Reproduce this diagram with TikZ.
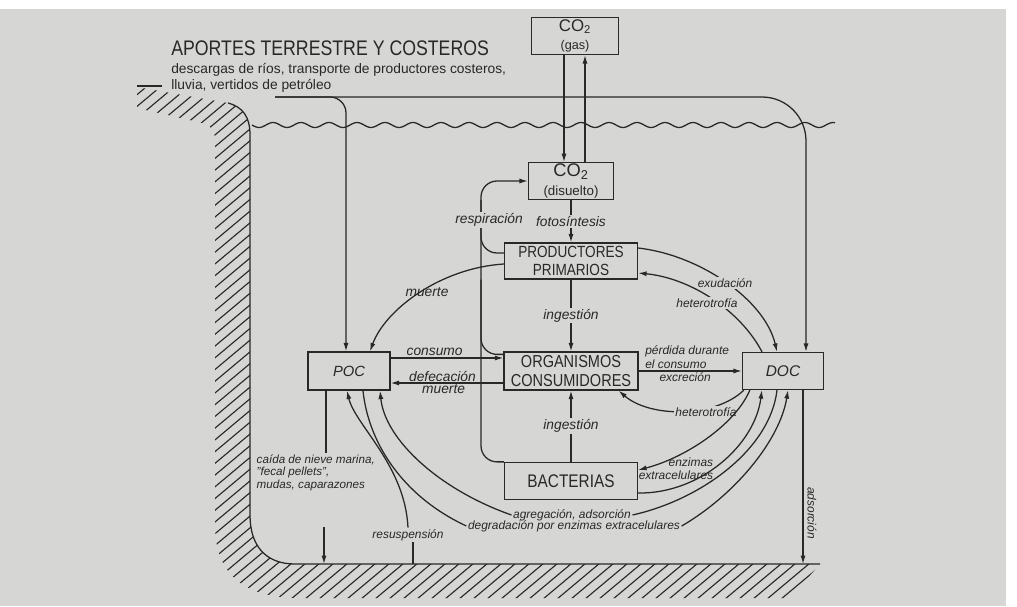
\documentclass[tikz,border=0pt]{standalone}
\usepackage{fontspec}
\setmainfont{Liberation Sans}
\newfontfamily\narrowfont{Liberation Sans}[FakeStretch=0.84]
\usepackage{tikz}
\usetikzlibrary{calc, arrows.meta}

\definecolor{paper}{RGB}{214,214,212}
\definecolor{ink}{RGB}{40,40,40}

\begin{document}
\begin{tikzpicture}[x=0.025cm, y=-0.025cm, color=ink,
    >={Latex[length=6pt,width=3.6pt]},
    box/.style={draw, line width=0.9pt, inner sep=1pt, align=center,
        font=\narrowfont\fontsize{11.5}{12.5}\selectfont},
    lab/.style={font=\itshape\fontsize{8.5}{10}\selectfont, inner sep=1pt},
    labbig/.style={lab, font=\itshape\fontsize{9.8}{11}\selectfont},
    onln/.style={labbig, fill=paper},
    flow/.style={line width=0.9pt}]

    % fondo
    \fill[white] (0,0) rectangle (1017,606);
    \fill[paper] (0,9) rectangle (1006,606);
    \useasboundingbox (0,0) rectangle (1017,606);

    % 1. Costa, fondo marino y superficie
    \begin{scope}
        \clip (137,87) -- (228,103) .. controls (243,107) and (250,117) .. (250,135) -- (250,515)
            .. controls (250,545) and (265,564) .. (295,564) -- (820,564) -- (790,598) -- (300,598)
            .. controls (245,598) and (215,575) .. (215,525) -- (215,140)
            .. controls (215,128) and (208,124) .. (198,122) -- (137,108) -- cycle;
        \foreach \k in {-36,...,58}
            \draw[line width=0.8pt] (\k*14,620) -- ++(740,-620);
    \end{scope}
    \draw[flow] (137,86) -- (162,86);
    \draw[flow] (228,103) .. controls (243,107) and (250,117) .. (250,135) -- (250,515)
        .. controls (250,545) and (265,564) .. (295,564) -- (820,564);
    \coordinate (fondo) at (0,564);

    % olas
    \draw[flow] plot[domain=252:835, samples=300, smooth] (\x, {125+2.5*sin(12.857*(\x-252))});

    % 2. Textos de aportes
    \node[anchor=west, inner sep=0, font=\narrowfont\fontsize{15}{17}\selectfont] (titulo) at (171,48)
        {APORTES TERRESTRE Y COSTEROS};
    \node[anchor=west, inner sep=0, align=left, font=\fontsize{9.8}{11.4}\selectfont] (aportes) at (171,78)
        {descargas de ríos, transporte de productores costeros,\\lluvia, vertidos de petróleo};

    % 3. Cajas
    \node[box, minimum width=2.175cm, minimum height=0.925cm, font=\fontsize{12}{13}\selectfont] (co2gas) at (575,36)
        {CO\textsubscript{2}\\{\fontsize{9}{9}\selectfont (gas)}};
    \node[box, minimum width=2.125cm, minimum height=0.9cm, font=\fontsize{13}{13}\selectfont] (co2dis) at (571,181)
        {CO\textsubscript{2}\\{\fontsize{9.5}{10}\selectfont (disuelto)}};
    \node[box, minimum width=3.325cm, minimum height=0.9cm] (prod) at (571,261) {PRODUCTORES\\PRIMARIOS};
    \node[box, minimum width=3.35cm, minimum height=0.95cm, font=\narrowfont\fontsize{12.3}{13}\selectfont] (cons) at (571,371)
        {ORGANISMOS\\CONSUMIDORES};
    \node[box, minimum width=3.325cm, minimum height=0.925cm, font=\narrowfont\fontsize{13}{14}\selectfont] (bact) at (571,481) {BACTERIAS};
    \node[box, minimum width=2.05cm, minimum height=0.95cm, font=\itshape\fontsize{10.5}{12}\selectfont] (poc) at (349,371) {POC};
    \node[box, minimum width=2.025cm, minimum height=0.925cm, font=\itshape\fontsize{11}{12}\selectfont] (doc) at (783,371) {DOC};

    % 4. Intercambio de CO2
    \draw[flow,->] ($(co2gas.south)+(-11,0)$) coordinate (g1) -- (g1 |- co2dis.north);
    \draw[flow,->] ($(co2dis.north)+(14,0)$) coordinate (g2) -- (g2 |- co2gas.south);
    \draw[flow,->] (co2dis) -- (prod) node[onln, midway] {fotosíntesis};

    % respiración
    \coordinate (resp) at (481,0);
    \draw[flow,->,rounded corners=0.4cm] (bact.north west) -| (resp |- co2dis.west) -- (co2dis.west);
    \draw[flow,rounded corners=0.4cm] ($(prod.west)+(0,-8)$) -| (resp |- co2dis.south);
    \draw[flow,rounded corners=0.4cm] ($(cons.north west)+(0,3)$) -| (resp |- prod.south);
    \node[onln] (lresp) at (489,220) {respiración};

    % 5. Aportes externos
    \coordinate (aporte) at (275,97);
    \draw[flow,->,rounded corners=1.1cm] (aporte) -| ($(doc.north)+(23,0)$);
    \draw[flow,->,rounded corners=0.4cm] (aporte) -| ($(poc.north)+(-3,0)$);

    % 6. Red trófica
    \draw[flow,->] ($(prod.west)+(0,3)$) .. controls (440,268) and (385,310) .. ($(poc.north)+(21,0)$);
    \node[labbig] (lmuerte) at (427,292) {muerte};
    \draw[flow,->] (prod) -- (cons) node[onln, midway] {ingestión};
    \draw[flow,->] (bact) -- (cons) node[onln, midway] {ingestión};
    \draw[flow,->] ($(poc.east)+(0,-13)$) coordinate (p1) -- (p1 -| cons.west)
        node[labbig, above, pos=0.39] {consumo};
    \draw[flow,->] ($(cons.west)+(0,12)$) coordinate (p2) -- (p2 -| poc.east)
        node[labbig, above, pos=0.54, inner sep=0.5pt] {defecación} node[labbig, below, pos=0.53, inner sep=0.5pt] {muerte};
    \draw[flow,->] (cons.east) -- (doc.west)
        node[lab, above, pos=0.47, align=left] {pérdida durante\\el consumo}
        node[lab, below, pos=0.45] {excreción};

    % 7. DOC
    \draw[flow,->] ($(prod.east)+(0,-13)$) .. controls (700,255) and (765,300) .. ($(doc.north)+(-6,0)$);
    \node[lab, fill=paper] (lexud) at (725,283) {exudación};
    \draw[flow,->] ($(doc.north)+(-21,0)$) .. controls (740,310) and (690,278) .. ($(prod.east)+(0,12)$);
    \node[lab, fill=paper] (lhet1) at (707,303) {heterotrofía};
    \draw[flow,->] ($(doc.south west)+(2,0)$) .. controls (715,418) and (650,418) .. ($(cons.south east)+(-20,0)$);
    \node[lab, fill=paper] (lhet2) at (706,412) {heterotrofía};
    \draw[flow,->] ($(doc.south west)+(8,0)$) .. controls (735,425) and (685,458) .. ($(bact.east)+(0,-11)$);
    \draw[flow,->] ($(bact.east)+(0,12)$) .. controls (700,494) and (755,445) .. ($(doc.south west)+(20,0)$);
    \node[lab, align=right, font=\itshape\fontsize{8.5}{9}\selectfont] (lenz) at (676,469) {enzimas\\extracelulares};

    % agregación / degradación
    \node[lab] (lagr) at (572,515) {agregación, adsorción};
    \node[lab] (ldeg) at (574,526) {degradación por enzimas extracelulares};
    \draw[flow] (lagr.east) .. controls (700,500) and (770,450) .. ($(doc.south)+(-6,0)$);
    \draw[flow,->] (lagr.west) .. controls (440,490) and (385,440) .. ($(poc.south)+(31,0)$);
    \draw[flow] ($(poc.south)+(14,0)$) .. controls (368,440) and (400,495) .. (ldeg.west);
    \draw[flow,->] (ldeg.east) .. controls (735,495) and (780,440) .. ($(doc.south)+(5,0)$);

    % 8. Sedimento
    \node[lab] (lres) at (408,535) {resuspensión};
    \draw[flow] ($(lres.south)+(5,0)$) coordinate (r1) -- (r1 |- fondo);
    \draw[flow,->] (lres.north) .. controls (405,465) and (355,425) .. ($(poc.south)+(-2,0)$);
    \node[lab, anchor=north west, align=left, font=\itshape\fontsize{8.3}{9}\selectfont] (lcaida) at (255,453)
        {caída de nieve marina,\\"fecal pellets",\\mudas, caparazones};
    \draw[flow] ($(poc.south)+(-23,0)$) coordinate (k1) -- (k1 |- lcaida.north);
    \coordinate (k2) at (324,527);
    \draw[flow,->] (k2) -- (k2 |- fondo);
    \draw[flow,->] ($(doc.south)+(20,0)$) coordinate (a1) -- (a1 |- fondo);
    \node[lab, rotate=-90] (lads) at (812,513) {adsorción};

\end{tikzpicture}
\end{document}
